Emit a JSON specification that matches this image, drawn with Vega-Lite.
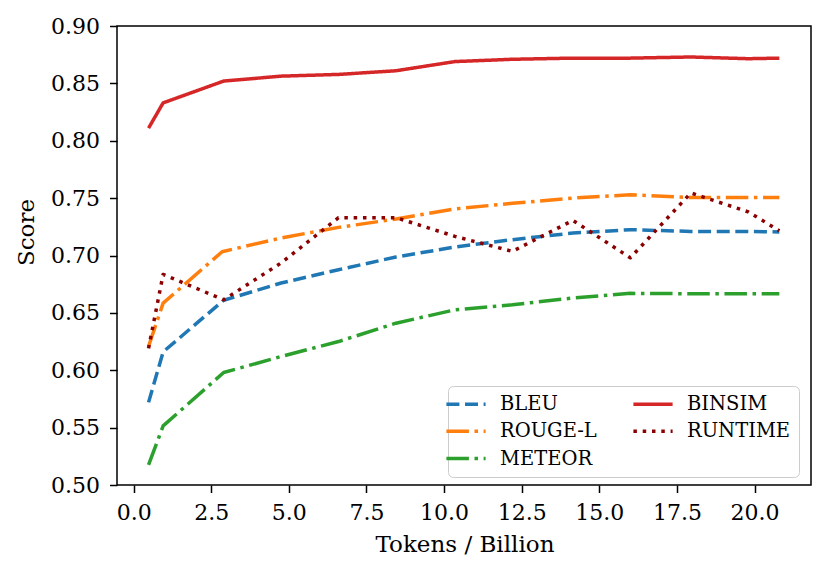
{
  "$schema": "https://vega.github.io/schema/vega-lite/v6.json",
  "autosize": "none",
  "padding": {"left": 117, "top": 26, "right": 19, "bottom": 89},
  "width": 694,
  "height": 459,
  "background": "white",
  "config": {
    "view": {"stroke": "black", "strokeWidth": 1.5},
    "font": "DejaVu Serif",
    "axis": {
      "grid": false,
      "domain": false,
      "ticks": true,
      "tickColor": "black",
      "tickWidth": 1.5,
      "tickSize": 7.5,
      "labelFont": "DejaVu Serif",
      "labelFontSize": 22,
      "labelColor": "black",
      "titleFont": "DejaVu Serif",
      "titleFontSize": 23,
      "titleFontWeight": "normal",
      "titleColor": "black"
    },
    "legend": {
      "orient": "none",
      "legendX": 331,
      "legendY": 360,
      "columns": 2,
      "direction": "vertical",
      "symbolType": "M-2.45,0H2.45",
      "symbolSize": 256,
      "symbolStrokeWidth": 3.5,
      "labelFont": "DejaVu Serif",
      "labelFontSize": 19.5,
      "labelColor": "black",
      "labelOffset": 24,
      "columnPadding": 29,
      "rowPadding": 7.3,
      "padding": 8,
      "strokeColor": "#cccccc",
      "fillColor": "rgba(255,255,255,0.8)",
      "cornerRadius": 5
    }
  },
  "data": {
    "values": [
      {"tokens": 0.48, "metric": "BLEU", "score": 0.572},
      {"tokens": 0.95, "metric": "BLEU", "score": 0.616},
      {"tokens": 2.9, "metric": "BLEU", "score": 0.661},
      {"tokens": 4.75, "metric": "BLEU", "score": 0.676},
      {"tokens": 6.6, "metric": "BLEU", "score": 0.6876},
      {"tokens": 8.45, "metric": "BLEU", "score": 0.6987},
      {"tokens": 10.35, "metric": "BLEU", "score": 0.7074},
      {"tokens": 12.2, "metric": "BLEU", "score": 0.7138},
      {"tokens": 14.15, "metric": "BLEU", "score": 0.7196},
      {"tokens": 16.0, "metric": "BLEU", "score": 0.7225},
      {"tokens": 17.95, "metric": "BLEU", "score": 0.721},
      {"tokens": 19.8, "metric": "BLEU", "score": 0.721},
      {"tokens": 20.8, "metric": "BLEU", "score": 0.7205},
      {"tokens": 0.48, "metric": "ROUGE-L", "score": 0.6207},
      {"tokens": 0.95, "metric": "ROUGE-L", "score": 0.6585},
      {"tokens": 2.85, "metric": "ROUGE-L", "score": 0.7033},
      {"tokens": 4.75, "metric": "ROUGE-L", "score": 0.7153},
      {"tokens": 6.6, "metric": "ROUGE-L", "score": 0.7245},
      {"tokens": 8.45, "metric": "ROUGE-L", "score": 0.7318},
      {"tokens": 10.35, "metric": "ROUGE-L", "score": 0.7406},
      {"tokens": 12.2, "metric": "ROUGE-L", "score": 0.7455},
      {"tokens": 14.15, "metric": "ROUGE-L", "score": 0.75},
      {"tokens": 16.0, "metric": "ROUGE-L", "score": 0.753},
      {"tokens": 17.95, "metric": "ROUGE-L", "score": 0.7505},
      {"tokens": 19.8, "metric": "ROUGE-L", "score": 0.7505},
      {"tokens": 20.8, "metric": "ROUGE-L", "score": 0.7505},
      {"tokens": 0.48, "metric": "METEOR", "score": 0.5175},
      {"tokens": 0.95, "metric": "METEOR", "score": 0.5515},
      {"tokens": 2.9, "metric": "METEOR", "score": 0.598},
      {"tokens": 4.75, "metric": "METEOR", "score": 0.612},
      {"tokens": 6.6, "metric": "METEOR", "score": 0.625},
      {"tokens": 8.45, "metric": "METEOR", "score": 0.641},
      {"tokens": 10.35, "metric": "METEOR", "score": 0.6527},
      {"tokens": 12.2, "metric": "METEOR", "score": 0.657},
      {"tokens": 14.15, "metric": "METEOR", "score": 0.663},
      {"tokens": 16.0, "metric": "METEOR", "score": 0.667},
      {"tokens": 17.95, "metric": "METEOR", "score": 0.6667},
      {"tokens": 19.8, "metric": "METEOR", "score": 0.6667},
      {"tokens": 20.8, "metric": "METEOR", "score": 0.6667},
      {"tokens": 0.48, "metric": "BINSIM", "score": 0.811},
      {"tokens": 0.95, "metric": "BINSIM", "score": 0.833},
      {"tokens": 2.9, "metric": "BINSIM", "score": 0.852},
      {"tokens": 4.75, "metric": "BINSIM", "score": 0.8563},
      {"tokens": 6.6, "metric": "BINSIM", "score": 0.8578},
      {"tokens": 8.45, "metric": "BINSIM", "score": 0.861},
      {"tokens": 10.35, "metric": "BINSIM", "score": 0.869},
      {"tokens": 12.2, "metric": "BINSIM", "score": 0.871},
      {"tokens": 14.15, "metric": "BINSIM", "score": 0.872},
      {"tokens": 16.0, "metric": "BINSIM", "score": 0.872},
      {"tokens": 17.95, "metric": "BINSIM", "score": 0.873},
      {"tokens": 19.8, "metric": "BINSIM", "score": 0.8715},
      {"tokens": 20.8, "metric": "BINSIM", "score": 0.872},
      {"tokens": 0.48, "metric": "RUNTIME", "score": 0.619},
      {"tokens": 0.95, "metric": "RUNTIME", "score": 0.6835},
      {"tokens": 2.9, "metric": "RUNTIME", "score": 0.6614},
      {"tokens": 4.75, "metric": "RUNTIME", "score": 0.6935},
      {"tokens": 6.6, "metric": "RUNTIME", "score": 0.733},
      {"tokens": 8.45, "metric": "RUNTIME", "score": 0.733},
      {"tokens": 10.35, "metric": "RUNTIME", "score": 0.7167},
      {"tokens": 12.2, "metric": "RUNTIME", "score": 0.7036},
      {"tokens": 14.15, "metric": "RUNTIME", "score": 0.7306},
      {"tokens": 16.0, "metric": "RUNTIME", "score": 0.698},
      {"tokens": 17.95, "metric": "RUNTIME", "score": 0.7545},
      {"tokens": 19.8, "metric": "RUNTIME", "score": 0.738},
      {"tokens": 20.8, "metric": "RUNTIME", "score": 0.7216}
    ]
  },
  "mark": {"type": "line", "strokeWidth": 3.5, "strokeCap": "butt", "strokeJoin": "round"},
  "encoding": {
    "x": {
      "field": "tokens",
      "type": "quantitative",
      "title": "Tokens / Billion",
      "scale": {"domain": [-0.536, 21.82], "nice": false, "zero": false},
      "axis": {
        "values": [0, 2.5, 5, 7.5, 10, 12.5, 15, 17.5, 20],
        "format": ".1f",
        "labelPadding": 10,
        "labelFlush": false,
        "titleX": 347.5,
        "titleY": 66.7,
        "titleAlign": "center",
        "titleBaseline": "alphabetic"
      }
    },
    "y": {
      "field": "score",
      "type": "quantitative",
      "title": "Score",
      "scale": {"domain": [0.5, 0.9], "nice": false, "zero": false},
      "axis": {
        "values": [0.5, 0.55, 0.6, 0.65, 0.7, 0.75, 0.8, 0.85, 0.9],
        "format": ".2f",
        "labelPadding": 10,
        "labelFlush": false,
        "titleX": -84,
        "titleY": 206,
        "titleAngle": 270,
        "titleAlign": "center",
        "titleBaseline": "alphabetic"
      }
    },
    "color": {
      "field": "metric",
      "type": "nominal",
      "title": null,
      "scale": {
        "domain": ["BLEU", "ROUGE-L", "METEOR", "BINSIM", "RUNTIME"],
        "range": ["#1f77b4", "#ff7f0e", "#2ca02c", "#d62728", "#8b0000"]
      }
    },
    "strokeDash": {
      "field": "metric",
      "type": "nominal",
      "title": null,
      "scale": {
        "domain": ["BLEU", "ROUGE-L", "METEOR", "BINSIM", "RUNTIME"],
        "range": [[13, 5.6], [22.5, 5.6, 3.5, 5.6], [22.5, 5.6, 3.5, 5.6], [1, 0], [3.5, 5.8]]
      }
    }
  }
}
